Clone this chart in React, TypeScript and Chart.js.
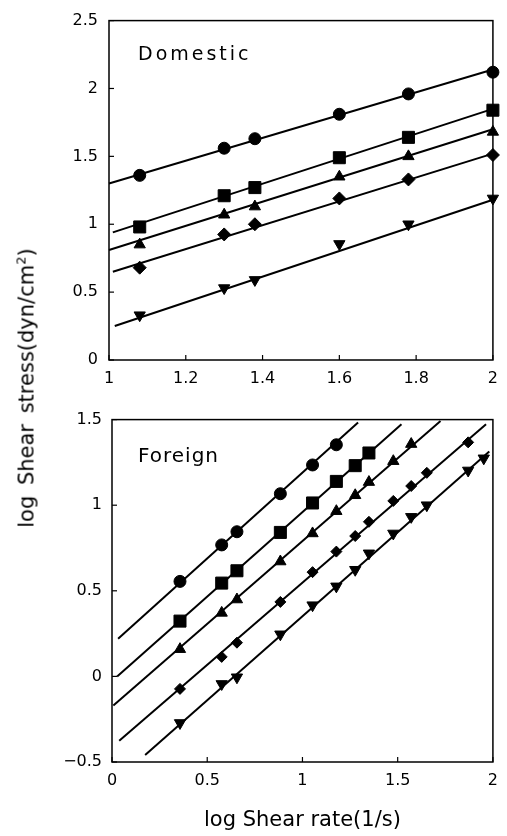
import React, { useEffect, useRef } from "react";
import { Chart, registerables } from "chart.js";

Chart.register(...registerables);

const FONT = "'DejaVu Sans', sans-serif";

// ---------- Domestic (top panel) ----------
const domX = [1.08, 1.3, 1.38, 1.6, 1.78, 2.0];
const domCircle = [1.36, 1.56, 1.63, 1.81, 1.96, 2.12];
const domSquare = [0.98, 1.21, 1.27, 1.49, 1.64, 1.84];
const domTriangle = [0.85, 1.07, 1.13, 1.35, 1.5, 1.68];
const domDiamond = [0.68, 0.925, 1.0, 1.19, 1.33, 1.51];
const domDown = [0.33, 0.53, 0.59, 0.855, 1.0, 1.19];

const domFitX0 = [1.0, 1.01, 1.0, 1.01, 1.015];
const domFitY0 = [1.3, 0.94, 0.81, 0.65, 0.25];
const domFitX1 = [2.0, 2.0, 2.0, 2.0, 2.0];
const domFitY1 = [2.14, 1.85, 1.7, 1.52, 1.18];

const domXTicks = [1, 1.2, 1.4, 1.6, 1.8, 2];
const domYTicks = [0, 0.5, 1, 1.5, 2, 2.5];

// ---------- Foreign (bottom panel) ----------
const forX = [0.357, 0.576, 0.656, 0.884, 1.053, 1.178, 1.277, 1.349, 1.477, 1.571, 1.653, 1.87, 1.952];
const forCircle = [0.555, 0.768, 0.845, 1.067, 1.235, 1.353];
const forSquare = [0.323, 0.545, 0.617, 0.841, 1.013, 1.139, 1.231, 1.305];
const forTriangle = [0.159, 0.371, 0.449, 0.671, 0.835, 0.965, 1.058, 1.135, 1.257, 1.357];
const forDiamond = [-0.073, 0.114, 0.197, 0.435, 0.609, 0.729, 0.82, 0.903, 1.025, 1.112, 1.189, 1.367];
const forDown = [-0.272, -0.044, -0.005, 0.246, 0.416, 0.526, 0.623, 0.719, 0.835, 0.932, 1.0, 1.203, 1.274];

const forFitX0 = [0.032, 0.027, 0.007, 0.038, 0.174];
const forFitY0 = [0.22, 0.0, -0.17, -0.376, -0.459];
const forFitX1 = [1.292, 1.52, 1.725, 1.964, 1.981];
const forFitY1 = [1.483, 1.473, 1.492, 1.473, 1.313];

const forXTicks = [0, 0.5, 1, 1.5, 2];
const forYTicks = [-0.5, 0, 0.5, 1, 1.5];

// marker styles: circle, square, triangle, diamond, down-triangle
const markerStyles = ["circle", "rect", "triangle", "rectRot", "triangle"];
const markerRotation = [0, 0, 0, 0, 180];
const domRadius = [6, 8.5, 6.5, 6.5, 6.5];
const forRadius = [6, 8.5, 6.5, 5.5, 6.5];

const fmt = (v: any) => String(v).replace("-", "\u2212");

const framePlugin = {
  id: "frame",
  afterDraw(chart: any, _args: any, opts: any) {
    const { ctx, chartArea: a, scales } = chart;
    ctx.save();
    ctx.strokeStyle = "#000";
    ctx.lineWidth = 1.5;
    ctx.strokeRect(a.left, a.top, a.right - a.left, a.bottom - a.top);
    ctx.lineWidth = 1.2;
    const len = 5;
    scales.x.ticks.forEach((t: any) => {
      const px = scales.x.getPixelForValue(t.value);
      ctx.beginPath();
      ctx.moveTo(px, a.bottom);
      ctx.lineTo(px, a.bottom - len);
      ctx.stroke();
    });
    scales.y.ticks.forEach((t: any) => {
      const py = scales.y.getPixelForValue(t.value);
      ctx.beginPath();
      ctx.moveTo(a.left, py);
      ctx.lineTo(a.left + len, py);
      ctx.stroke();
    });
    if (opts && opts.text) {
      ctx.fillStyle = "#000";
      ctx.font = `${opts.size}px ${FONT}`;
      ctx.textBaseline = "alphabetic";
      ctx.textAlign = "left";
      (ctx as any).letterSpacing = opts.spacing;
      ctx.fillText(opts.text, a.left + opts.dx, a.top + opts.dy);
      (ctx as any).letterSpacing = "0px";
    }
    ctx.restore();
  },
};

function buildDatasets(xs: number[], series: number[][], fx0: number[], fy0: number[], fx1: number[], fy1: number[], radii: number[]) {
  const lines = fx0.map((x0, i) => ({
    data: [
      { x: x0, y: fy0[i] },
      { x: fx1[i], y: fy1[i] },
    ],
    showLine: true,
    borderColor: "#000",
    borderWidth: 2,
    pointRadius: 0,
    clip: false,
  }));
  const marks = series.map((ys, i) => ({
    data: ys.map((y, j) => ({ x: xs[j], y })),
    showLine: false,
    pointStyle: markerStyles[i],
    rotation: markerRotation[i],
    pointRadius: radii[i],
    backgroundColor: "#000",
    borderColor: "#000",
    borderWidth: 1,
    clip: false,
  }));
  return [...lines, ...marks];
}

function axis(min: number, max: number, ticks: number[], pad: number, fit: (s: any) => void, title?: any) {
  return {
    type: "linear",
    min,
    max,
    afterBuildTicks: (s: any) => {
      s.ticks = ticks.map((v) => ({ value: v }));
    },
    afterFit: fit,
    grid: { display: false, drawTicks: false },
    border: { display: false },
    ticks: {
      color: "#000",
      font: { family: FONT, size: 16 },
      padding: pad,
      maxRotation: 0,
      autoSkip: false,
      callback: fmt,
    },
    title: title || { display: false },
  };
}

export default function App() {
  const topRef = useRef<HTMLCanvasElement>(null);
  const botRef = useRef<HTMLCanvasElement>(null);

  useEffect(() => {
    const top = new Chart(topRef.current as HTMLCanvasElement, {
      type: "scatter",
      data: {
        datasets: buildDatasets(
          domX,
          [domCircle, domSquare, domTriangle, domDiamond, domDown],
          domFitX0, domFitY0, domFitX1, domFitY1, domRadius
        ) as any,
      },
      options: {
        animation: false,
        responsive: false,
        maintainAspectRatio: false,
        layout: { padding: { top: 14, right: 5, bottom: 0, left: 0 } },
        plugins: {
          legend: { display: false },
          tooltip: { enabled: false },
          frame: { text: "Domestic", size: 19, spacing: "3px", dx: 29, dy: 39 },
        } as any,
        scales: {
          x: axis(1, 2, domXTicks, 9, (s: any) => { s.height = 40; }),
          y: axis(0, 2.5, domYTicks, 11, (s: any) => { s.width = 109; }),
        } as any,
      },
      plugins: [framePlugin],
    });

    const bot = new Chart(botRef.current as HTMLCanvasElement, {
      type: "scatter",
      data: {
        datasets: buildDatasets(
          forX,
          [forCircle, forSquare, forTriangle, forDiamond, forDown],
          forFitX0, forFitY0, forFitX1, forFitY1, forRadius
        ) as any,
      },
      options: {
        animation: false,
        responsive: false,
        maintainAspectRatio: false,
        layout: { padding: { top: 17, right: 5, bottom: 0, left: 0 } },
        plugins: {
          legend: { display: false },
          tooltip: { enabled: false },
          frame: { text: "Foreign", size: 20, spacing: "1px", dx: 26, dy: 42 },
        } as any,
        scales: {
          x: axis(0, 2, forXTicks, 9, (s: any) => { s.height = 74; }, {
            display: true,
            text: "log Shear rate(1/s)",
            color: "#000",
            font: { family: FONT, size: 21 },
            padding: { top: 0, bottom: 3 },
          }),
          y: axis(-0.5, 1.5, forYTicks, 10, (s: any) => { s.width = 112; }),
        } as any,
      },
      plugins: [framePlugin],
    });

    return () => {
      top.destroy();
      bot.destroy();
    };
  }, []);

  return (
    <div style={{ position: "absolute", left: 0, top: 0, width: 507, height: 836, background: "#fff" }}>
      <canvas ref={topRef} width={507} height={400} style={{ position: "absolute", left: 0, top: 0, display: "block" }} />
      <canvas ref={botRef} width={507} height={436} style={{ position: "absolute", left: 0, top: 400, display: "block" }} />
      <div
        style={{
          position: "absolute",
          left: 27,
          top: 388,
          transform: "translate(-50%, -50%) rotate(-90deg)",
          fontFamily: FONT,
          fontSize: 21,
          lineHeight: 1,
          whiteSpace: "nowrap",
          wordSpacing: 4,
          color: "#000",
        }}
      >
        log Shear stress(dyn/cm<sup style={{ fontSize: 13, lineHeight: 0 }}>2</sup>)
      </div>
    </div>
  );
}
